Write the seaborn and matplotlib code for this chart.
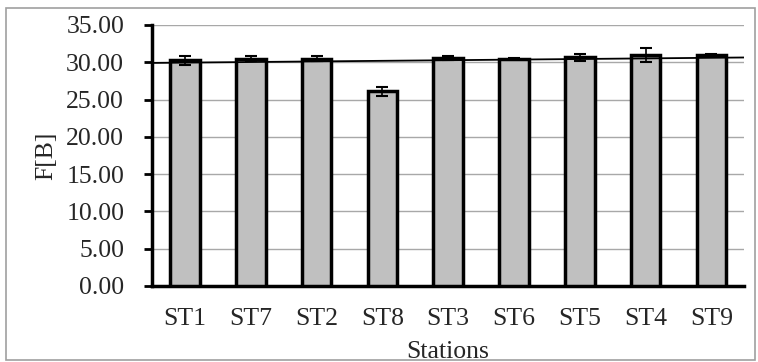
import numpy as np
import pandas as pd
import matplotlib
matplotlib.use("Agg")
import matplotlib.pyplot as plt
from matplotlib.patches import Rectangle
from matplotlib.ticker import FormatStrFormatter
import seaborn as sns

stations = ["ST1", "ST7", "ST2", "ST8", "ST3", "ST6", "ST5", "ST4", "ST9"]
fib = [30.3, 30.5, 30.5, 26.1, 30.55, 30.5, 30.65, 31.0, 31.0]
fib_err = [0.6, 0.35, 0.3, 0.6, 0.25, 0.1, 0.5, 0.9, 0.1]
# trendline read at ST1 and ST9
trend_at = ["ST1", "ST9"]
trend_val = [29.95, 30.6]
yticks = [0, 5, 10, 15, 20, 25, 30, 35]

sns.set_style("white")
plt.rcParams["font.family"] = ["Liberation Serif", "DejaVu Serif"]
fs = 18.5

df = pd.DataFrame({"Stations": stations, "FIB": fib})
pos = np.arange(len(stations))

fig, ax = plt.subplots(figsize=(7.58, 3.62), dpi=100)
fig.subplots_adjust(left=0.2005, right=0.982, bottom=0.21, top=0.931)

sns.barplot(data=df, x="Stations", y="FIB", color="#c0c0c0", saturation=1,
            edgecolor="black", linewidth=2.5, width=0.45, ax=ax, zorder=3)
ax.errorbar(pos, fib, yerr=fib_err, fmt="none", ecolor="black",
            elinewidth=1.2, capsize=4.5, capthick=1.5, zorder=4)

ax.set_xlim(-0.5, len(stations) - 0.5)
ax.set_ylim(0, 35)
tx = np.array([stations.index(s) for s in trend_at])
sns.regplot(x=tx, y=np.array(trend_val), scatter=False, ci=None, truncate=False,
            line_kws={"color": "black", "lw": 1.3, "zorder": 5}, ax=ax)
ax.set_xlim(-0.5, len(stations) - 0.5)

ax.set_yticks(yticks)
ax.yaxis.set_major_formatter(FormatStrFormatter("%.2f"))
ax.yaxis.grid(True, color="#a8a8a8", lw=1.0, zorder=0)
ax.set_axisbelow(True)

ax.set_xticks(pos)
ax.set_xticklabels(stations)
ax.set_xticks(np.arange(len(stations) + 1) - 0.5, minor=True)
ax.tick_params(axis="x", which="major", length=0, pad=15.5, labelsize=fs)
ax.tick_params(axis="x", which="minor", length=6, width=2, direction="out", color="black")
ax.tick_params(axis="y", length=6, width=2, direction="out", left=True, labelsize=fs, pad=14, color="black")

for s in ["top", "right"]:
    ax.spines[s].set_visible(False)
for s in ["left", "bottom"]:
    ax.spines[s].set_color("black")
    ax.spines[s].set_linewidth(2.5)

ax.set_xlabel("Stations", fontsize=fs, labelpad=8)
ax.set_ylabel("F[B]", fontsize=fs)
ax.yaxis.set_label_coords(-0.16, 0.5)

fig.patches.append(Rectangle((0.008, 0.006), 0.988, 0.972, transform=fig.transFigure,
                             fill=False, edgecolor="#a0a0a0", lw=1.2))

fig.savefig("out.png", dpi=100)
